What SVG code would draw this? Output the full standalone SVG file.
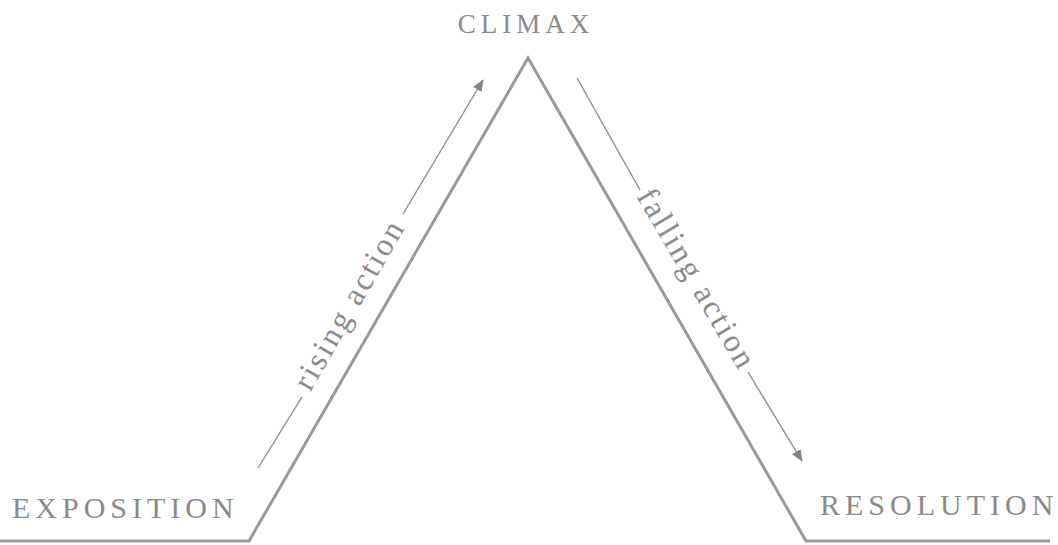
<svg xmlns="http://www.w3.org/2000/svg" width="1058" height="545" viewBox="0 0 1058 545">
  <defs>
    <marker id="arrow" viewBox="0 0 12 10" refX="11" refY="5" markerWidth="12" markerHeight="10" markerUnits="userSpaceOnUse" orient="auto">
      <path d="M0,0 L12,5 L0,10 Z" fill="#858585"/>
    </marker>
  </defs>
  <style>
    .label { font-family: "Liberation Serif", "Times New Roman", serif; fill: #8a8a8a; }
    .stage { font-size: 30px; letter-spacing: 5px; }
    .top { font-size: 27px; letter-spacing: 5px; }
    .act { font-size: 32px; letter-spacing: 2.5px; }
    .main { fill: none; stroke: #999999; stroke-width: 3; stroke-linejoin: miter; }
    .arr { fill: none; stroke: #8c8c8c; stroke-width: 1.4; }
  </style>
  <rect width="1058" height="545" fill="#ffffff"/>

  <g id="plot-line">
    <path class="main" d="M0,541 H249 L528,58 L806,541 H1050"/>
  </g>

  <g id="connectors">
    <path class="arr" d="M258,468 L302,397"/>
    <path class="arr" d="M403,214 L483,80" marker-end="url(#arrow)"/>
    <path class="arr" d="M577,78 L640,190"/>
    <path class="arr" d="M748,372 L802,461" marker-end="url(#arrow)"/>
  </g>

  <g id="climax">
    <text class="label top" x="526" y="33" text-anchor="middle">CLIMAX</text>
  </g>
  <g id="exposition">
    <text class="label stage" x="12" y="518">EXPOSITION</text>
  </g>
  <g id="resolution">
    <text class="label stage" x="820" y="515">RESOLUTION</text>
  </g>
  <g id="rising-action">
    <text class="label act" transform="translate(352,306) rotate(-60)" x="0" y="7" text-anchor="middle">rising action</text>
  </g>
  <g id="falling-action">
    <text class="label act" transform="translate(694,281) rotate(59.5)" x="0" y="7" text-anchor="middle">falling action</text>
  </g>
</svg>
